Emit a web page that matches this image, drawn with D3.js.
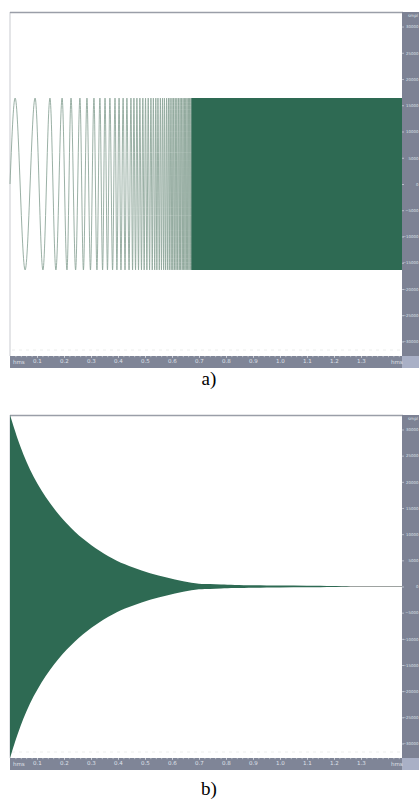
<!DOCTYPE html>
<meta charset="utf-8">
<script src="https://cdn.jsdelivr.net/npm/d3@7"></script>
<style>
body{margin:0;background:#fff}
svg{display:block}
.ax text{fill:#dfe2ea;font-family:"DejaVu Sans",sans-serif}
.ax path{display:none}
.ax line{stroke:#e4e7ee;stroke-width:0.6}
</style>
<body>
<script>

// ---- data ----
// time axis (seconds) and sample axis (16 bit)
var timeMax = 1.452;
var timeTicks = [0.1, 0.2, 0.3, 0.4, 0.5, 0.6, 0.7, 0.8, 0.9, 1.0, 1.1, 1.2, 1.3];
var sampleTicks = [-30000, -25000, -20000, -15000, -10000, -5000, 0, 5000, 10000, 15000, 20000, 25000, 30000];

// a) sweep: times of alternating crests (+) and troughs (-), amplitude 16384
var sweepAmp = 16384;
var sweepExtrema = [0.019, 0.056, 0.093, 0.122, 0.148, 0.170, 0.193, 0.211, 0.226, 0.243,
    0.259, 0.272, 0.285, 0.298, 0.311, 0.322, 0.333, 0.343, 0.352, 0.361,
    0.370, 0.380, 0.389, 0.396, 0.404, 0.411, 0.419, 0.426, 0.433, 0.441,
    0.448, 0.454, 0.459, 0.465, 0.470, 0.476, 0.481, 0.487, 0.492, 0.497,
    0.502, 0.507, 0.512, 0.517, 0.522, 0.527, 0.531, 0.536, 0.540, 0.544,
    0.548, 0.553, 0.557, 0.561, 0.565, 0.569, 0.572, 0.576, 0.580, 0.583,
    0.587, 0.590, 0.593, 0.597, 0.600, 0.603, 0.606, 0.609, 0.612, 0.615,
    0.618, 0.621, 0.624, 0.627, 0.630, 0.632, 0.635, 0.638, 0.641, 0.643,
    0.646, 0.648, 0.651, 0.653, 0.656, 0.658, 0.661, 0.663, 0.665, 0.668,
    0.670, 0.672, 0.674, 0.676, 0.678, 0.680];
var sweepSolidFrom = 0.672;   // above this the plot is a filled band

// b) decaying tone: upper envelope (samples)
var decayTime = [0, 0.037, 0.085, 0.148, 0.211, 0.270, 0.333, 0.396, 0.456, 0.519,
    0.581, 0.641, 0.704, 0.740, 0.780, 0.830, 0.900, 1.000, 1.100, 1.200, 1.280];
var decayAmp = [32768, 26640, 20890, 15710, 11880, 9010, 6710, 4790, 3640, 2490,
    1720, 960, 450, 480, 380, 300, 250, 200, 160, 120, 0];

var captions = ["a)", "b)"];

// ---- layout ----
var W = 419, H = 800;
var green = "#2e6a53";

var svg = d3.select("body").append("svg").attr("width", W).attr("height", H);

var panels = [
    {top: 12, bottom: 356, cap: 385},
    {top: 415, bottom: 758, cap: 795}
];

var x = d3.scaleLinear().domain([0, timeMax]).range([10, 402]);

panels.forEach(function (p, i) {
    var y = d3.scaleLinear().domain([-32768, 32768]).range([p.bottom, p.top]);
    var g = svg.append("g");
    p.y = y; p.g = g;

    // plot frame
    g.append("rect").attr("x", 10).attr("y", p.top).attr("width", 392).attr("height", p.bottom - p.top)
        .attr("fill", "#fff");
    g.append("line").attr("x1", 10).attr("x2", 10).attr("y1", p.top).attr("y2", p.bottom)
        .attr("stroke", "#c9cbd0").attr("stroke-width", 1);
    g.append("line").attr("x1", 10).attr("x2", 403).attr("y1", p.top + 0.5).attr("y2", p.top + 0.5)
        .attr("stroke", "#9a9ea8").attr("stroke-width", 1.5);
    // faint dotted line near the bottom
    g.append("line").attr("x1", 12).attr("x2", 400).attr("y1", p.bottom - 6).attr("y2", p.bottom - 6)
        .attr("stroke", "#eceeed").attr("stroke-dasharray", "3,4");

    // right sample strip
    g.append("rect").attr("x", 402).attr("y", p.top).attr("width", 17).attr("height", p.bottom - p.top)
        .attr("fill", "#7d8294");
    // bottom time strip
    g.append("rect").attr("x", 10).attr("y", p.bottom).attr("width", 392).attr("height", 12)
        .attr("fill", "#7f8597");
    g.append("rect").attr("x", 402).attr("y", p.bottom).attr("width", 17).attr("height", 12)
        .attr("fill", "#a9b0c6");

    var ra = g.append("g").attr("class", "ax").attr("transform", "translate(402,0)")
        .call(d3.axisRight(y).tickValues(sampleTicks).tickFormat(d3.format("d")).tickSize(2).tickPadding(1));
    ra.selectAll("text").attr("font-size", 3.9).attr("text-anchor", "end").attr("x", 16.5);
    g.append("text").attr("x", 418).attr("y", p.top + 5).attr("font-size", 4.2).attr("text-anchor", "end")
        .attr("fill", "#dfe2ea").attr("font-family", "DejaVu Sans").text("smpl");

    var ba = g.append("g").attr("class", "ax").attr("transform", "translate(0," + p.bottom + ")")
        .call(d3.axisBottom(x).tickValues(timeTicks).tickFormat(d3.format(".1f")).tickSize(2).tickPadding(1.5));
    ba.selectAll("text").attr("font-size", 5.5);
    g.append("g").attr("class", "ax").attr("transform", "translate(0," + p.bottom + ")")
        .call(d3.axisBottom(x).tickValues(d3.range(0.02, timeMax, 0.02)).tickFormat("").tickSize(1.2));
    g.append("text").attr("x", 13).attr("y", p.bottom + 8).attr("font-size", 5.5)
        .attr("fill", "#dfe2ea").attr("font-family", "DejaVu Sans").text("hms");
    g.append("text").attr("x", 391).attr("y", p.bottom + 8).attr("font-size", 5.5)
        .attr("fill", "#dfe2ea").attr("font-family", "DejaVu Sans").text("hms");

    svg.append("text").attr("x", 209).attr("y", p.cap).attr("text-anchor", "middle")
        .attr("font-family", "Liberation Serif").attr("font-size", 19).attr("fill", "#000")
        .text(captions[i]);
});

// ---- a) sweep ----
var pa = panels[0];
var sweepPts = [[0, 0]].concat(sweepExtrema.map(function (t, i) {
    return [t, i % 2 === 0 ? sweepAmp : -sweepAmp];
}));
pa.g.append("path")
    .attr("d", d3.line().x(function (d) { return x(d[0]); }).y(function (d) { return pa.y(d[1]); })
        .curve(d3.curveMonotoneX)(sweepPts))
    .attr("fill", "none").attr("stroke", "#8ea79b").attr("stroke-width", 0.9);
pa.g.append("path")
    .attr("d", d3.area().x(function (d) { return x(d); })
        .y0(pa.y(-sweepAmp)).y1(pa.y(sweepAmp))([sweepSolidFrom, timeMax]))
    .attr("fill", green);

// ---- b) decaying tone ----
var pb = panels[1];
pb.g.append("line").attr("x1", 10).attr("x2", 402).attr("y1", pb.y(0)).attr("y2", pb.y(0))
    .attr("stroke", "#9ea3a1").attr("stroke-width", 1);
pb.g.append("path")
    .attr("d", d3.area().x(function (d, i) { return x(decayTime[i]); })
        .y0(function (d) { return pb.y(-d); }).y1(function (d) { return pb.y(d); })
        .curve(d3.curveBasis)(decayAmp))
    .attr("fill", green);
</script>
